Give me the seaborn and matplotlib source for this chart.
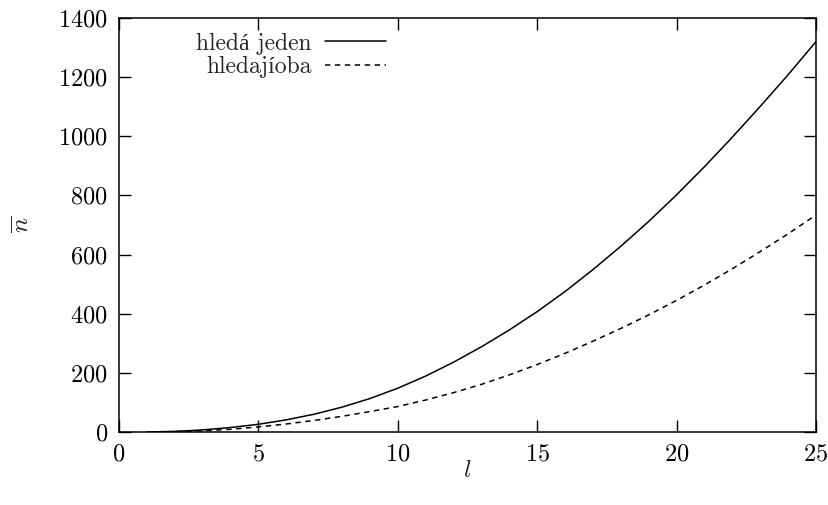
import numpy as np
import matplotlib
matplotlib.use("Agg")
import matplotlib.pyplot as plt
import pandas as pd
import seaborn as sns

# values, l = 1..25
l_values = list(range(1, 26))
hleda_jeden = [0, 2, 7, 15, 26, 41, 60, 84, 113, 148,
               189, 236, 288, 345, 407, 475, 549, 628, 712, 802,
               897, 997, 1101, 1208, 1320]
hledaji_oba = [0, 1, 4, 9, 17, 27, 39, 53, 69, 86,
               108, 133, 161, 193, 228, 266, 307, 350, 396, 445,
               497, 552, 610, 670, 734]
labels = ["hledá jeden", "hledajíoba"]
x_ticks = [0, 5, 10, 15, 20, 25]
y_ticks = [0, 200, 400, 600, 800, 1000, 1200, 1400]

sns.set_theme(style="ticks")
plt.rcParams["font.family"] = ["cmr10", "Liberation Serif", "DejaVu Serif"]
plt.rcParams["mathtext.fontset"] = "cm"
plt.rcParams["axes.formatter.use_mathtext"] = True

df = pd.DataFrame({"l": l_values, "jeden": hleda_jeden, "oba": hledaji_oba})

fig = plt.figure(figsize=(8.29, 5.05), dpi=100)
ax = fig.add_axes([0.1435, 0.1446, 0.8408, 0.8198])

sns.lineplot(data=df, x="l", y="jeden", ax=ax, color="black", lw=1.1, label=labels[0])
sns.lineplot(data=df, x="l", y="oba", ax=ax, color="black", lw=1.1,
             linestyle=(0, (3.5, 3)), label=labels[1])

ax.set_xlim(0, 25)
ax.set_ylim(0, 1400)
ax.set_xticks(x_ticks)
ax.set_yticks(y_ticks)
ax.tick_params(direction="in", length=8.5, width=1, top=True, right=True,
               labelsize=17.5, pad=8, colors="black")
for s in ax.spines.values():
    s.set_linewidth(1.1)
    s.set_color("black")
ax.set_xlabel(r"$l$", fontsize=18, labelpad=-4)
ax.set_ylabel(r"$\overline{n}$", fontsize=18, labelpad=18)

ax.legend(loc="upper right", bbox_to_anchor=(0.383, 0.965), frameon=False,
          markerfirst=False, fontsize=17, handlelength=2.6, handletextpad=0.55,
          borderpad=0, borderaxespad=0, labelspacing=0.05)

fig.savefig("out.png", dpi=100)
